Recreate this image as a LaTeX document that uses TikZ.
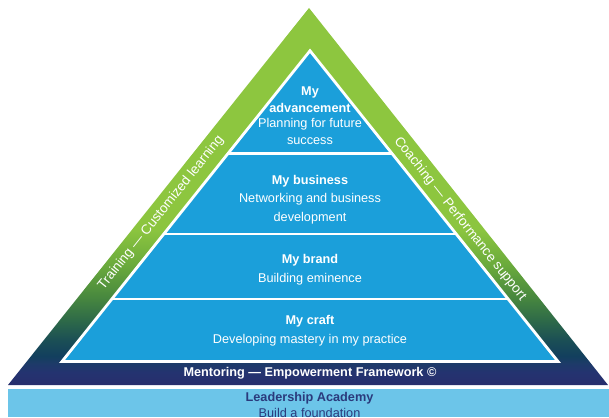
\documentclass[tikz,border=0pt]{standalone}
\usepackage{fontspec}
\setmainfont{Liberation Sans}

\definecolor{leafgreen}{HTML}{8DC63F}
\definecolor{midgreen}{HTML}{6AAA3C}
\definecolor{deepgreen}{HTML}{4A8A3E}
\definecolor{mossgreen}{HTML}{2E6A48}
\definecolor{tealdark}{HTML}{1B4F55}
\definecolor{navyteal}{HTML}{123F5E}
\definecolor{navyA}{HTML}{1D3B68}
\definecolor{navyB}{HTML}{243370}
\definecolor{navyC}{HTML}{282E6C}
\definecolor{layerblue}{HTML}{1B9FDA}
\definecolor{academy}{HTML}{6CC5E9}
\definecolor{academyink}{HTML}{2A3A7C}

% green-to-navy fade of the outer frame (25bp = base, 75bp = apex)
\pgfdeclareverticalshading{frameshade}{100bp}{%
  color(0bp)=(navyC); color(25bp)=(navyC); color(26.7bp)=(navyB);
  color(27.9bp)=(navyA); color(28.8bp)=(navyteal); color(31bp)=(tealdark);
  color(33.6bp)=(mossgreen); color(36.9bp)=(deepgreen); color(40.9bp)=(midgreen);
  color(45.6bp)=(leafgreen!95!midgreen); color(49.5bp)=(leafgreen);
  color(100bp)=(leafgreen)}

\begin{document}
\begin{tikzpicture}[x=1pt,y=1pt,
  txt/.style={text=white, anchor=base, inner sep=0pt,
    font=\fontsize{12.7}{15}\selectfont},
  head/.style={txt, font=\fontsize{12.7}{15}\selectfont\bfseries},
  side/.style={text=white, anchor=center, inner sep=0pt,
    font=\fontsize{13.5}{16}\selectfont},
  sep/.style={white, line width=2.8pt}]
\useasboundingbox (0,0) rectangle (609,417);
\clip (0,0) rectangle (609,417);

% outer frame
\coordinate (oL) at (8,32);
\coordinate (oR) at (608,32);
\coordinate (oT) at (309,409);
\shade[shading=frameshade] (oL) -- (oR) -- (oT) -- cycle;

% foundation band
\fill[academy] (8,0) rectangle (609,28);

% inner pyramid
\coordinate (iL) at (62,55.5);
\coordinate (iR) at (558,55.5);
\coordinate (iT) at (310,366.2);
\fill[layerblue] (iL) -- (iR) -- (iT) -- cycle;
\begin{scope}
  \clip (iL) -- (iR) -- (iT) -- cycle;
  \foreach \yy in {263.5,183,118}
    \draw[sep] (0,\yy) -- (609,\yy);
\end{scope}
\draw[sep, line join=miter] (iL) -- (iR) -- (iT) -- cycle;

% layer texts
\node[head] (advA) at (310,321.3) {My};
\node[head] (advB) at (310,304.6) {advancement};
\node[txt]  (advC) at (310,289) {Planning for future};
\node[txt]  (advD) at (310,272.2) {success};

\node[head] (busA) at (310,232.2) {My business};
\node[txt]  (busB) at (310,214) {Networking and business};
\node[txt]  (busC) at (310,195.7) {development};

\node[head] (brdA) at (310,153.2) {My brand};
\node[txt]  (brdB) at (310,134.7) {Building eminence};

\node[head] (crfA) at (310,92.2) {My craft};
\node[txt]  (crfB) at (310,74) {Developing mastery in my practice};

% base captions
\node[head] (mentor) at (310,40.5) {Mentoring — Empowerment Framework ©};
\node[head, text=academyink] (acadA) at (309.5,15.5) {Leadership Academy};
\node[txt, text=academyink] (acadB) at (309.5,-0.5) {Build a foundation};

% side captions
\node[side, rotate=51.4] (train) at (161,204) {Training — Customized learning};
\node[side, rotate=-51.6] (coach) at (460,198) {Coaching — Performance support};
\end{tikzpicture}
\end{document}
